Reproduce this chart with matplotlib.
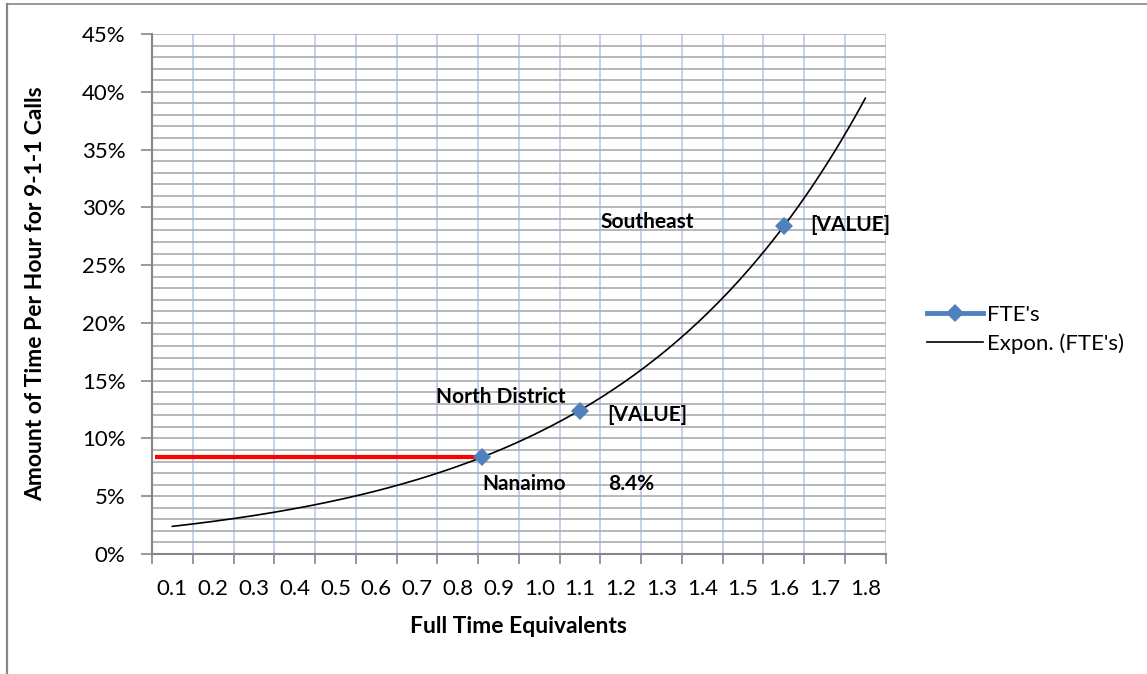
import numpy as np
import matplotlib.pyplot as plt
from matplotlib.lines import Line2D
from matplotlib.ticker import FixedLocator, PercentFormatter

plt.rcParams['font.family'] = ['Lato', 'DejaVu Sans']

# data
districts = ['Nanaimo', 'North District', 'Southeast']
fte = [0.86, 1.10, 1.60]
pct_time = [8.4, 12.4, 28.4]
point_labels = ['8.4%', '[VALUE]', '[VALUE]']
x_labels = ['0.1', '0.2', '0.3', '0.4', '0.5', '0.6', '0.7', '0.8', '0.9',
            '1.0', '1.1', '1.2', '1.3', '1.4', '1.5', '1.6', '1.7', '1.8']
y_ticks = [0, 5, 10, 15, 20, 25, 30, 35, 40, 45]

blue = '#4F81BD'
grey = '#868686'

fig = plt.figure(figsize=(11.47, 6.74), dpi=100)
ax = fig.add_axes([0.1325, 0.1780, 0.6397, 0.7716])

# exponential trend line fitted on the three points (like Excel's Expon. trendline)
b, ln_a = np.polyfit(fte, np.log(pct_time), 1)
x_cat = np.array([float(s) for s in x_labels])
xt = np.linspace(x_cat[0], x_cat[-1], 200)
ax.plot(xt, np.exp(ln_a) * np.exp(b * xt), color='black', lw=1.2, zorder=3)

# red reference line to Nanaimo
ax.plot([0.057, fte[0]], [pct_time[0], pct_time[0]], color='#FF0000', lw=3, zorder=3,
        solid_capstyle='butt')

ax.plot(fte, pct_time, 'D', color=blue, ms=9.5, zorder=4, markeredgewidth=0)

# data labels
name_off = [(0, -19.5, 'left'), (-57, 10, 'center'), (-98, 3, 'center')]
val_off = [(91, -19.5), (19.5, -3), (19, 0.5)]
for i in range(len(fte)):
    dx, dy, ha = name_off[i]
    ax.annotate(districts[i], (fte[i], pct_time[i]), xytext=(dx, dy),
                textcoords='offset points', ha=ha, va='center',
                fontsize=15, fontweight='bold')
    dx, dy = val_off[i]
    ax.annotate(point_labels[i], (fte[i], pct_time[i]), xytext=(dx, dy),
                textcoords='offset points', ha='left', va='center',
                fontsize=15, fontweight='bold')

# axes
ax.set_xlim(0.05, 1.85)
ax.set_ylim(0, 45)
grid_x = [0.05 + 0.1 * k for k in range(19)]
ax.xaxis.set_major_locator(FixedLocator(grid_x))
ax.xaxis.set_minor_locator(FixedLocator(list(x_cat)))
ax.set_xticklabels([], minor=False)
ax.set_xticklabels(x_labels, minor=True)
ax.tick_params(axis='x', which='major', length=7, width=1.2, color=grey, direction='out')
ax.tick_params(axis='x', which='minor', length=0, pad=18, labelsize=16)

ax.set_yticks(y_ticks)
ax.set_yticks(np.arange(0, 46, 1), minor=True)
ax.yaxis.set_major_formatter(PercentFormatter(decimals=0))
ax.tick_params(axis='y', which='major', length=8, width=1.2, color=grey, pad=11,
               labelsize=16)
ax.tick_params(axis='y', which='minor', length=0)

ax.grid(axis='y', which='both', color='#ABABAB', lw=1.2)
ax.grid(axis='x', which='major', color='#B6CAEC', lw=1.2)
ax.grid(axis='x', which='minor', visible=False)
ax.set_axisbelow(True)

for s in ['top', 'right']:
    ax.spines[s].set_visible(False)
for s in ['left', 'bottom']:
    ax.spines[s].set_color(grey)
    ax.spines[s].set_linewidth(1.5)

ax.set_xlabel('Full Time Equivalents', fontsize=16.5, fontweight='bold', labelpad=12)
ax.set_ylabel('Amount of Time Per Hour for 9-1-1 Calls', fontsize=16.5,
              fontweight='bold', labelpad=26)

handles = [Line2D([], [], color=blue, lw=3.5, marker='D', ms=9, markeredgewidth=0),
           Line2D([], [], color='black', lw=1.2)]
fig.legend(handles, ["FTE's", "Expon. (FTE's)"], loc='center left',
           bbox_to_anchor=(0.791, 0.511), frameon=False, fontsize=16,
           handlelength=2.5, handletextpad=0.2, labelspacing=0.38)

# outer chart border (left and top edges only are visible)
fig.add_artist(Line2D([7 / 1147, 7 / 1147], [0, 1 - 4 / 674], transform=fig.transFigure,
                      color=grey, lw=1.6))
fig.add_artist(Line2D([7 / 1147, 1], [1 - 4 / 674, 1 - 4 / 674], transform=fig.transFigure,
                      color=grey, lw=1.2))

fig.savefig('out.png', dpi=100)
